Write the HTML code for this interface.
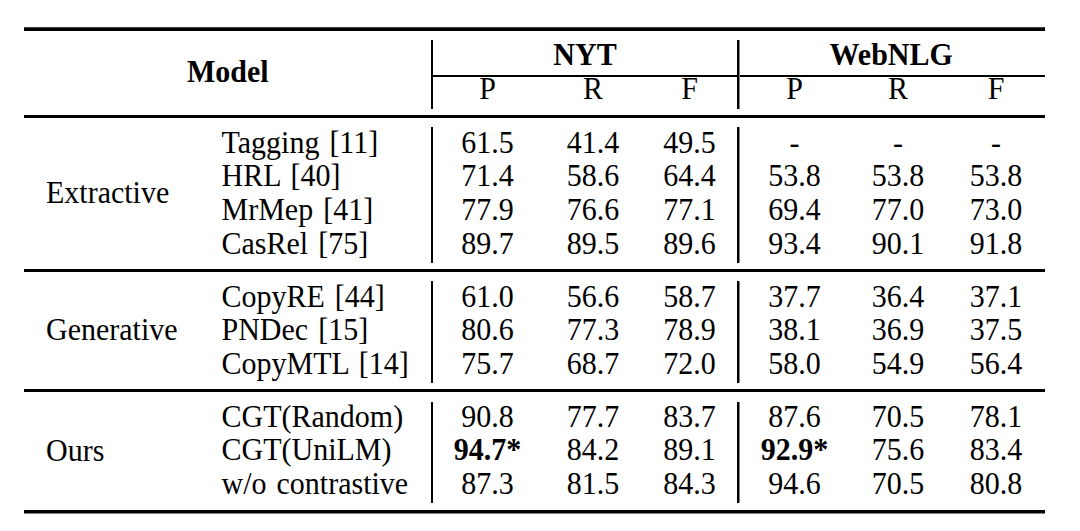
<!DOCTYPE html>
<html><head><meta charset="utf-8"><style>
html,body{margin:0;padding:0;background:#fff;}
body{width:1080px;height:531px;position:relative;overflow:hidden;}
.t{position:absolute;font-family:"Liberation Serif",serif;font-size:30px;line-height:30px;white-space:nowrap;color:#000;word-spacing:2.5px;transform:scaleY(1.025);transform-origin:0 25px;}
.b{font-weight:bold;}
.r{position:absolute;background:#000;}
</style></head><body>
<div class="r" style="left:24px;top:27px;width:1021px;height:1px;background:#404040"></div>
<div class="r" style="left:24px;top:28px;width:1021px;height:3px;background:#000"></div>
<div class="r" style="left:433px;top:75px;width:612px;height:2px;background:#000"></div>
<div class="r" style="left:24px;top:115px;width:1021px;height:3px;background:#000"></div>
<div class="r" style="left:24px;top:269px;width:1021px;height:3px;background:#000"></div>
<div class="r" style="left:24px;top:389px;width:1021px;height:3px;background:#000"></div>
<div class="r" style="left:24px;top:510px;width:1021px;height:3px;background:#000"></div>
<div class="r" style="left:24px;top:513px;width:1021px;height:1px;background:#808080"></div>
<div class="r" style="left:431px;top:40px;width:2px;height:69px;background:#000"></div>
<div class="r" style="left:737px;top:40px;width:2px;height:69px;background:#000"></div>
<div class="r" style="left:739px;top:40px;width:1px;height:69px;background:#808080"></div>
<div class="r" style="left:431px;top:127px;width:2px;height:136px;background:#000"></div>
<div class="r" style="left:737px;top:127px;width:2px;height:136px;background:#000"></div>
<div class="r" style="left:739px;top:127px;width:1px;height:136px;background:#808080"></div>
<div class="r" style="left:431px;top:281px;width:2px;height:102px;background:#000"></div>
<div class="r" style="left:737px;top:281px;width:2px;height:102px;background:#000"></div>
<div class="r" style="left:739px;top:281px;width:1px;height:102px;background:#808080"></div>
<div class="r" style="left:431px;top:402px;width:2px;height:101px;background:#000"></div>
<div class="r" style="left:737px;top:402px;width:2px;height:101px;background:#000"></div>
<div class="r" style="left:739px;top:402px;width:1px;height:101px;background:#808080"></div>
<div class="t b" style="top:56.7px;left:187px;">Model</div>
<div class="t b" style="top:40px;left:435.0px;width:300px;text-align:center;">NYT</div>
<div class="t b" style="top:40px;left:741.2px;width:300px;text-align:center;">WebNLG</div>
<div class="t" style="top:73.7px;left:337.5px;width:300px;text-align:center;">P</div>
<div class="t" style="top:73.7px;left:443.0px;width:300px;text-align:center;">R</div>
<div class="t" style="top:73.7px;left:539.5px;width:300px;text-align:center;">F</div>
<div class="t" style="top:73.7px;left:644.5px;width:300px;text-align:center;">P</div>
<div class="t" style="top:73.7px;left:748.0px;width:300px;text-align:center;">R</div>
<div class="t" style="top:73.7px;left:846.0px;width:300px;text-align:center;">F</div>
<div class="t" style="top:127.6px;left:221.5px;">Tagging [11]</div>
<div class="t" style="top:127.6px;left:337.5px;width:300px;text-align:center;">61.5</div>
<div class="t" style="top:127.6px;left:443.0px;width:300px;text-align:center;">41.4</div>
<div class="t" style="top:127.6px;left:539.5px;width:300px;text-align:center;">49.5</div>
<div class="t" style="top:127.6px;left:644.5px;width:300px;text-align:center;">-</div>
<div class="t" style="top:127.6px;left:748.0px;width:300px;text-align:center;">-</div>
<div class="t" style="top:127.6px;left:846.0px;width:300px;text-align:center;">-</div>
<div class="t" style="top:161.3px;left:221.5px;">HRL [40]</div>
<div class="t" style="top:161.3px;left:337.5px;width:300px;text-align:center;">71.4</div>
<div class="t" style="top:161.3px;left:443.0px;width:300px;text-align:center;">58.6</div>
<div class="t" style="top:161.3px;left:539.5px;width:300px;text-align:center;">64.4</div>
<div class="t" style="top:161.3px;left:644.5px;width:300px;text-align:center;">53.8</div>
<div class="t" style="top:161.3px;left:748.0px;width:300px;text-align:center;">53.8</div>
<div class="t" style="top:161.3px;left:846.0px;width:300px;text-align:center;">53.8</div>
<div class="t" style="top:195px;left:221.5px;">MrMep [41]</div>
<div class="t" style="top:195px;left:337.5px;width:300px;text-align:center;">77.9</div>
<div class="t" style="top:195px;left:443.0px;width:300px;text-align:center;">76.6</div>
<div class="t" style="top:195px;left:539.5px;width:300px;text-align:center;">77.1</div>
<div class="t" style="top:195px;left:644.5px;width:300px;text-align:center;">69.4</div>
<div class="t" style="top:195px;left:748.0px;width:300px;text-align:center;">77.0</div>
<div class="t" style="top:195px;left:846.0px;width:300px;text-align:center;">73.0</div>
<div class="t" style="top:228.8px;left:221.5px;">CasRel [75]</div>
<div class="t" style="top:228.8px;left:337.5px;width:300px;text-align:center;">89.7</div>
<div class="t" style="top:228.8px;left:443.0px;width:300px;text-align:center;">89.5</div>
<div class="t" style="top:228.8px;left:539.5px;width:300px;text-align:center;">89.6</div>
<div class="t" style="top:228.8px;left:644.5px;width:300px;text-align:center;">93.4</div>
<div class="t" style="top:228.8px;left:748.0px;width:300px;text-align:center;">90.1</div>
<div class="t" style="top:228.8px;left:846.0px;width:300px;text-align:center;">91.8</div>
<div class="t" style="top:281.5px;left:221.5px;">CopyRE [44]</div>
<div class="t" style="top:281.5px;left:337.5px;width:300px;text-align:center;">61.0</div>
<div class="t" style="top:281.5px;left:443.0px;width:300px;text-align:center;">56.6</div>
<div class="t" style="top:281.5px;left:539.5px;width:300px;text-align:center;">58.7</div>
<div class="t" style="top:281.5px;left:644.5px;width:300px;text-align:center;">37.7</div>
<div class="t" style="top:281.5px;left:748.0px;width:300px;text-align:center;">36.4</div>
<div class="t" style="top:281.5px;left:846.0px;width:300px;text-align:center;">37.1</div>
<div class="t" style="top:315.2px;left:221.5px;">PNDec [15]</div>
<div class="t" style="top:315.2px;left:337.5px;width:300px;text-align:center;">80.6</div>
<div class="t" style="top:315.2px;left:443.0px;width:300px;text-align:center;">77.3</div>
<div class="t" style="top:315.2px;left:539.5px;width:300px;text-align:center;">78.9</div>
<div class="t" style="top:315.2px;left:644.5px;width:300px;text-align:center;">38.1</div>
<div class="t" style="top:315.2px;left:748.0px;width:300px;text-align:center;">36.9</div>
<div class="t" style="top:315.2px;left:846.0px;width:300px;text-align:center;">37.5</div>
<div class="t" style="top:349px;left:221.5px;">CopyMTL [14]</div>
<div class="t" style="top:349px;left:337.5px;width:300px;text-align:center;">75.7</div>
<div class="t" style="top:349px;left:443.0px;width:300px;text-align:center;">68.7</div>
<div class="t" style="top:349px;left:539.5px;width:300px;text-align:center;">72.0</div>
<div class="t" style="top:349px;left:644.5px;width:300px;text-align:center;">58.0</div>
<div class="t" style="top:349px;left:748.0px;width:300px;text-align:center;">54.9</div>
<div class="t" style="top:349px;left:846.0px;width:300px;text-align:center;">56.4</div>
<div class="t" style="top:401.5px;left:221.5px;">CGT(Random)</div>
<div class="t" style="top:401.5px;left:337.5px;width:300px;text-align:center;">90.8</div>
<div class="t" style="top:401.5px;left:443.0px;width:300px;text-align:center;">77.7</div>
<div class="t" style="top:401.5px;left:539.5px;width:300px;text-align:center;">83.7</div>
<div class="t" style="top:401.5px;left:644.5px;width:300px;text-align:center;">87.6</div>
<div class="t" style="top:401.5px;left:748.0px;width:300px;text-align:center;">70.5</div>
<div class="t" style="top:401.5px;left:846.0px;width:300px;text-align:center;">78.1</div>
<div class="t" style="top:435.2px;left:221.5px;">CGT(UniLM)</div>
<div class="t" style="top:435.2px;left:337.5px;width:300px;text-align:center;"><b>94.7*</b></div>
<div class="t" style="top:435.2px;left:443.0px;width:300px;text-align:center;">84.2</div>
<div class="t" style="top:435.2px;left:539.5px;width:300px;text-align:center;">89.1</div>
<div class="t" style="top:435.2px;left:644.5px;width:300px;text-align:center;"><b>92.9*</b></div>
<div class="t" style="top:435.2px;left:748.0px;width:300px;text-align:center;">75.6</div>
<div class="t" style="top:435.2px;left:846.0px;width:300px;text-align:center;">83.4</div>
<div class="t" style="top:469px;left:221.5px;">w/o contrastive</div>
<div class="t" style="top:469px;left:337.5px;width:300px;text-align:center;">87.3</div>
<div class="t" style="top:469px;left:443.0px;width:300px;text-align:center;">81.5</div>
<div class="t" style="top:469px;left:539.5px;width:300px;text-align:center;">84.3</div>
<div class="t" style="top:469px;left:644.5px;width:300px;text-align:center;">94.6</div>
<div class="t" style="top:469px;left:748.0px;width:300px;text-align:center;">70.5</div>
<div class="t" style="top:469px;left:846.0px;width:300px;text-align:center;">80.8</div>
<div class="t" style="top:177.5px;left:46px;">Extractive</div>
<div class="t" style="top:315.2px;left:46px;">Generative</div>
<div class="t" style="top:436px;left:46px;">Ours</div>
</body></html>
